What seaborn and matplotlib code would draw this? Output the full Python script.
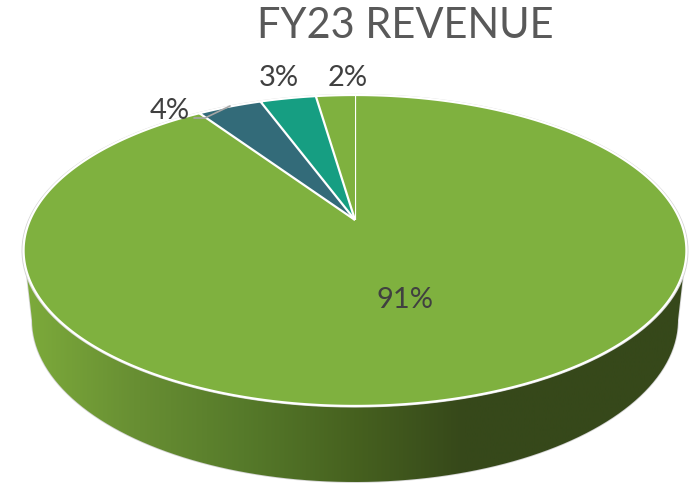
import numpy as np
import matplotlib
matplotlib.use("Agg")
import matplotlib.pyplot as plt
import seaborn as sns
from matplotlib.path import Path
from matplotlib.patches import PathPatch, Circle
from matplotlib.transforms import Transform

# revenue split, clockwise from 12 o'clock
shares = [90.6, 3.8, 3.3, 2.3]
share_labels = ["91%", "4%", "3%", "2%"]
colors = ["#7FB13F", "#336B79", "#169E82", "#7FB13F"]
title = "FY23 REVENUE"

sns.set_theme(style="white")
plt.rcParams["font.family"] = ["Lato", "DejaVu Sans"]


class Tilt(Transform):
    # perspective of the unit pie onto the picture, in pixels
    input_dims = 2
    output_dims = 2

    def transform_non_affine(self, xy):
        xy = np.asarray(xy, dtype=float)
        d = 1 + 0.196 * xy[:, 1]
        return np.column_stack([355 + 325 * xy[:, 0] / d, 220 - 149.5 * xy[:, 1] / d])

    def transform_path_non_affine(self, path):
        pts = [seg(np.linspace(0, 1, 24)) for seg, code in path.iter_bezier() if code != Path.CLOSEPOLY]
        return Path(self.transform_non_affine(np.vstack(pts)), closed=False)


fig, ax = plt.subplots(figsize=(6.93, 4.83), dpi=100)
fig.subplots_adjust(0, 0, 1, 1)

# side wall: gradient clipped to the lower rim
t = np.linspace(np.pi, 2 * np.pi, 200)
wall = np.column_stack([355 + 323 * np.cos(t), 320 - 162 * np.sin(t)])
wall = np.vstack([[[24, 250]], wall, [[686, 250]], [[24, 250]]])
shade = sns.blend_palette(["#7DAB3B", "#688F33", "#567A2A", "#46611F", "#36481A", "#36481A", "#36481A"], n_colors=256)
im = ax.imshow(np.array(shade)[None, :, :], extent=(23, 686, 483, 0), aspect="auto", zorder=1)
clip = PathPatch(Path(wall), transform=ax.transData, fc="none", ec="#D4D4D4", lw=1.2, zorder=0.9)
ax.add_patch(clip)
im.set_clip_path(clip)

wedges, _ = ax.pie(shares, colors=colors, startangle=90, counterclock=False,
                   wedgeprops=dict(edgecolor="white", linewidth=1.6, zorder=3))
tilt = Tilt()
for w in wedges:
    w.set_transform(tilt + ax.transData)

# faint grey rim around the top of the pie
rim = Circle((0, 0), 1.004, fc="none", ec="#D4D4D4", lw=1, zorder=2)
ax.add_patch(rim)
rim.set_transform(tilt + ax.transData)

ax.set_aspect("auto")
ax.set_xlim(0, 693)
ax.set_ylim(483, 0)
ax.axis("off")

# leader line of the 4% label
ax.plot([194, 205, 230], [118, 118, 106], color="#A6A6A6", lw=1.2, zorder=4)

ax.text(405, 300, share_labels[0], fontsize=21, color="#404040", ha="center", va="center", zorder=5)
ax.text(170, 111, share_labels[1], fontsize=21, color="#404040", ha="center", va="center", zorder=5)
ax.text(279, 78, share_labels[2], fontsize=21, color="#404040", ha="center", va="center", zorder=5)
ax.text(348, 78, share_labels[3], fontsize=21, color="#404040", ha="center", va="center", zorder=5)
ax.text(405, 26, title, fontsize=30, color="#595959", ha="center", va="center", zorder=5)

fig.savefig("out.png", dpi=100)
